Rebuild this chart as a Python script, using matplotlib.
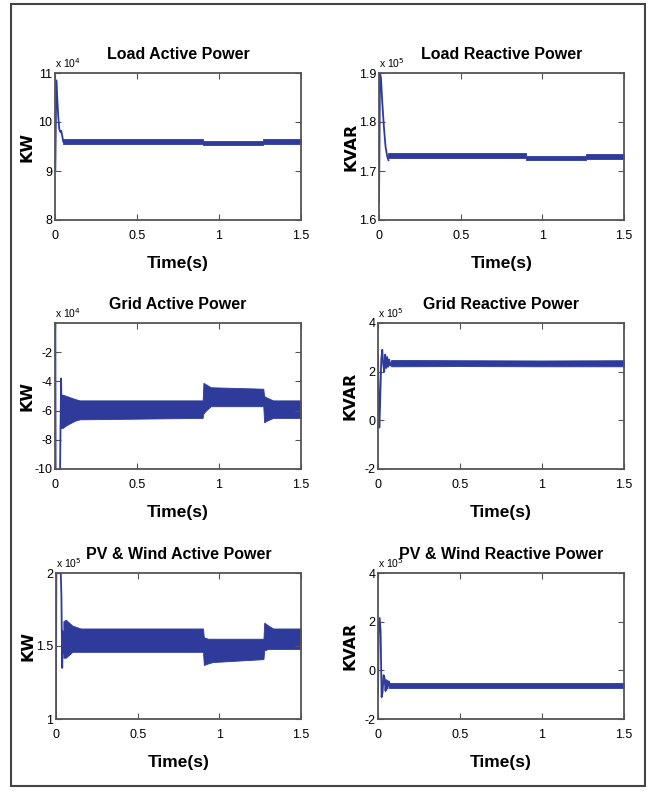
import numpy as np
import matplotlib
matplotlib.use('Agg')
import matplotlib.pyplot as plt
from matplotlib.patches import Rectangle

# --- data (values in units of the "x 10^n" factor) ---
# Load Active Power (x 10^4)
la_t_tr = [0, 0.002, 0.008, 0.012, 0.02, 0.026, 0.032, 0.038, 0.045, 0.05]
la_y_tr = [9.0, 9.0, 10.85, 10.6, 10.1, 9.86, 9.8, 9.82, 9.7, 9.6]
la_t_env = [0.05, 0.9, 0.9, 1.27, 1.27, 1.5]
la_lo = [9.56, 9.56, 9.54, 9.54, 9.56, 9.56]
la_hi = [9.66, 9.66, 9.62, 9.62, 9.66, 9.66]

# Load Reactive Power (x 10^5)
lr_t_tr = [0, 0.003, 0.006, 0.012, 0.02, 0.03, 0.04, 0.05, 0.058]
lr_y_tr = [1.636, 1.75, 1.9, 1.89, 1.84, 1.79, 1.75, 1.73, 1.722]
lr_t_env = [0.055, 0.9, 0.9, 1.27, 1.27, 1.5]
lr_lo = [1.726, 1.726, 1.722, 1.722, 1.725, 1.725]
lr_hi = [1.736, 1.736, 1.731, 1.731, 1.735, 1.735]

# Grid Active Power (x 10^4)
ga_t_tr = [0, 0.002, 0.004, 0.03, 0.037, 0.042, 0.047]
ga_y_tr = [-1.0, 0.5, -11, -11, -3.8, -7.2, -5.0]
ga_t_env = [0.045, 0.07, 0.12, 0.15, 0.9, 0.905, 0.92, 0.95, 1.27, 1.275, 1.29, 1.33, 1.5]
ga_hi = [-4.9, -5.0, -5.2, -5.3, -5.3, -4.1, -4.2, -4.4, -4.5, -5.0, -5.1, -5.3, -5.3]
ga_lo = [-7.2, -7.0, -6.7, -6.6, -6.5, -6.2, -6.0, -5.7, -5.7, -6.8, -6.7, -6.5, -6.5]

# Grid Reactive Power (x 10^5)
gr_t_tr = [0, 0.004, 0.008, 0.012, 0.02, 0.026, 0.032, 0.038, 0.044, 0.05, 0.056, 0.062, 0.068, 0.075, 0.085]
gr_y_tr = [2.7, 1.0, -0.3, 0.5, 2.5, 2.9, 2.3, 2.0, 2.7, 2.15, 2.6, 2.2, 2.5, 2.25, 2.4]
gr_t_env = [0.08, 0.5, 1.0, 1.5]
gr_lo = [2.22, 2.23, 2.22, 2.22]
gr_hi = [2.48, 2.47, 2.46, 2.47]

# PV & Wind Active Power (x 10^5)
pa_t_tr = [0, 0.002, 0.004, 0.028, 0.033, 0.038, 0.042, 0.046]
pa_y_tr = [1.0, 2.05, 2.05, 2.05, 1.85, 1.35, 1.6, 1.45]
pa_t_env = [0.045, 0.06, 0.1, 0.15, 0.9, 0.905, 0.93, 0.96, 1.27, 1.275, 1.3, 1.33, 1.5]
pa_hi = [1.67, 1.68, 1.64, 1.62, 1.62, 1.56, 1.55, 1.55, 1.55, 1.66, 1.64, 1.62, 1.62]
pa_lo = [1.42, 1.42, 1.46, 1.46, 1.46, 1.37, 1.38, 1.39, 1.41, 1.47, 1.48, 1.48, 1.48]

# PV & Wind Reactive Power (x 10^5)
pr_t_tr = [0, 0.004, 0.01, 0.016, 0.022, 0.028, 0.034, 0.04, 0.046, 0.052, 0.058, 0.066, 0.075]
pr_y_tr = [-1.0, 1.5, 2.15, 1.6, -1.1, -0.9, -0.2, -0.3, -0.85, -0.4, -0.75, -0.45, -0.65]
pr_t_env = [0.07, 0.5, 1.0, 1.5]
pr_lo = [-0.72, -0.72, -0.72, -0.72]
pr_hi = [-0.5, -0.5, -0.5, -0.5]

x_ticks = [0, 0.5, 1, 1.5]
x_labels = ['0', '0.5', '1', '1.5']

panels = [
    dict(title='Load Active Power', ylabel='KW', exp='4', ylim=(8, 11),
         yticks=[8, 9, 10, 11], ylabels=['8', '9', '10', '11'],
         tr=(la_t_tr, la_y_tr), env=(la_t_env, la_lo, la_hi), box=(55, 73, 301, 220)),
    dict(title='Load Reactive Power', ylabel='KVAR', exp='5', ylim=(1.6, 1.9),
         yticks=[1.6, 1.7, 1.8, 1.9], ylabels=['1.6', '1.7', '1.8', '1.9'],
         tr=(lr_t_tr, lr_y_tr), env=(lr_t_env, lr_lo, lr_hi), box=(379, 73, 624, 220)),
    dict(title='Grid Active Power', ylabel='KW', exp='4', ylim=(-10, 0),
         yticks=[-10, -8, -6, -4, -2], ylabels=['-10', '-8', '-6', '-4', '-2'],
         tr=(ga_t_tr, ga_y_tr), env=(ga_t_env, ga_lo, ga_hi), box=(55, 323, 301, 469)),
    dict(title='Grid Reactive Power', ylabel='KVAR', exp='5', ylim=(-2, 4),
         yticks=[-2, 0, 2, 4], ylabels=['-2', '0', '2', '4'],
         tr=(gr_t_tr, gr_y_tr), env=(gr_t_env, gr_lo, gr_hi), box=(378, 323, 624, 469)),
    dict(title='PV & Wind Active Power', ylabel='KW', exp='5', ylim=(1, 2),
         yticks=[1, 1.5, 2], ylabels=['1', '1.5', '2'],
         tr=(pa_t_tr, pa_y_tr), env=(pa_t_env, pa_lo, pa_hi), box=(56, 573, 301, 719)),
    dict(title='PV & Wind Reactive Power', ylabel='KVAR', exp='5', ylim=(-2, 4),
         yticks=[-2, 0, 2, 4], ylabels=['-2', '0', '2', '4'],
         tr=(pr_t_tr, pr_y_tr), env=(pr_t_env, pr_lo, pr_hi), box=(378, 573, 624, 719)),
]

W, H = 648, 792
BLUE = '#2e3b9b'
GREY = '#555555'
NARROW = ['Liberation Sans', 'DejaVu Sans']

fig = plt.figure(figsize=(W / 100, H / 100), dpi=100)

# outer frame
fig.patches.append(Rectangle((11 / W, 1 - 786 / H), 634 / W, 782 / H,
                             transform=fig.transFigure, fill=False,
                             edgecolor='#444444', linewidth=1.5))

for p in panels:
    l, t, r, b = p['box']
    ax = fig.add_axes([l / W, 1 - b / H, (r - l) / W, (b - t) / H])

    t_env, lo, hi = p['env']
    ax.fill_between(t_env, lo, hi, color=BLUE, linewidth=0.6, edgecolor=BLUE)
    ax.plot(p['tr'][0], p['tr'][1], color=BLUE, linewidth=1.3)

    ax.set_xlim(0, 1.5)
    ax.set_ylim(*p['ylim'])
    ax.set_xticks(x_ticks)
    ax.set_xticklabels(x_labels, family=NARROW, fontsize=9)
    ax.set_yticks(p['yticks'])
    ax.set_yticklabels(p['ylabels'], family=NARROW, fontsize=9)
    ax.tick_params(direction='in', top=True, right=True, length=4,
                   color=GREY, pad=2)
    ax.tick_params(axis='x', pad=7)
    for s in ax.spines.values():
        s.set_color(GREY)
        s.set_linewidth(1.3)

    ax.set_title(p['title'], family=NARROW, fontsize=11.5, fontweight='bold', pad=10)
    ax.set_xlabel('Time(s)', family=NARROW, fontsize=12.5, fontweight='bold', labelpad=10)
    ax.text(0.0, 1.02, r'x 10$^{%s}$' % p['exp'], transform=ax.transAxes,
            family=NARROW, fontsize=7.5, ha='left', va='bottom')

    # y label, bold wide font
    fig.text((l - 28) / W, 1 - (t + b) / 2 / H, p['ylabel'], rotation=90,
             ha='center', va='center', fontsize=11.5, fontweight='bold',
             family='DejaVu Sans')

plt.savefig('out.png', dpi=100)
